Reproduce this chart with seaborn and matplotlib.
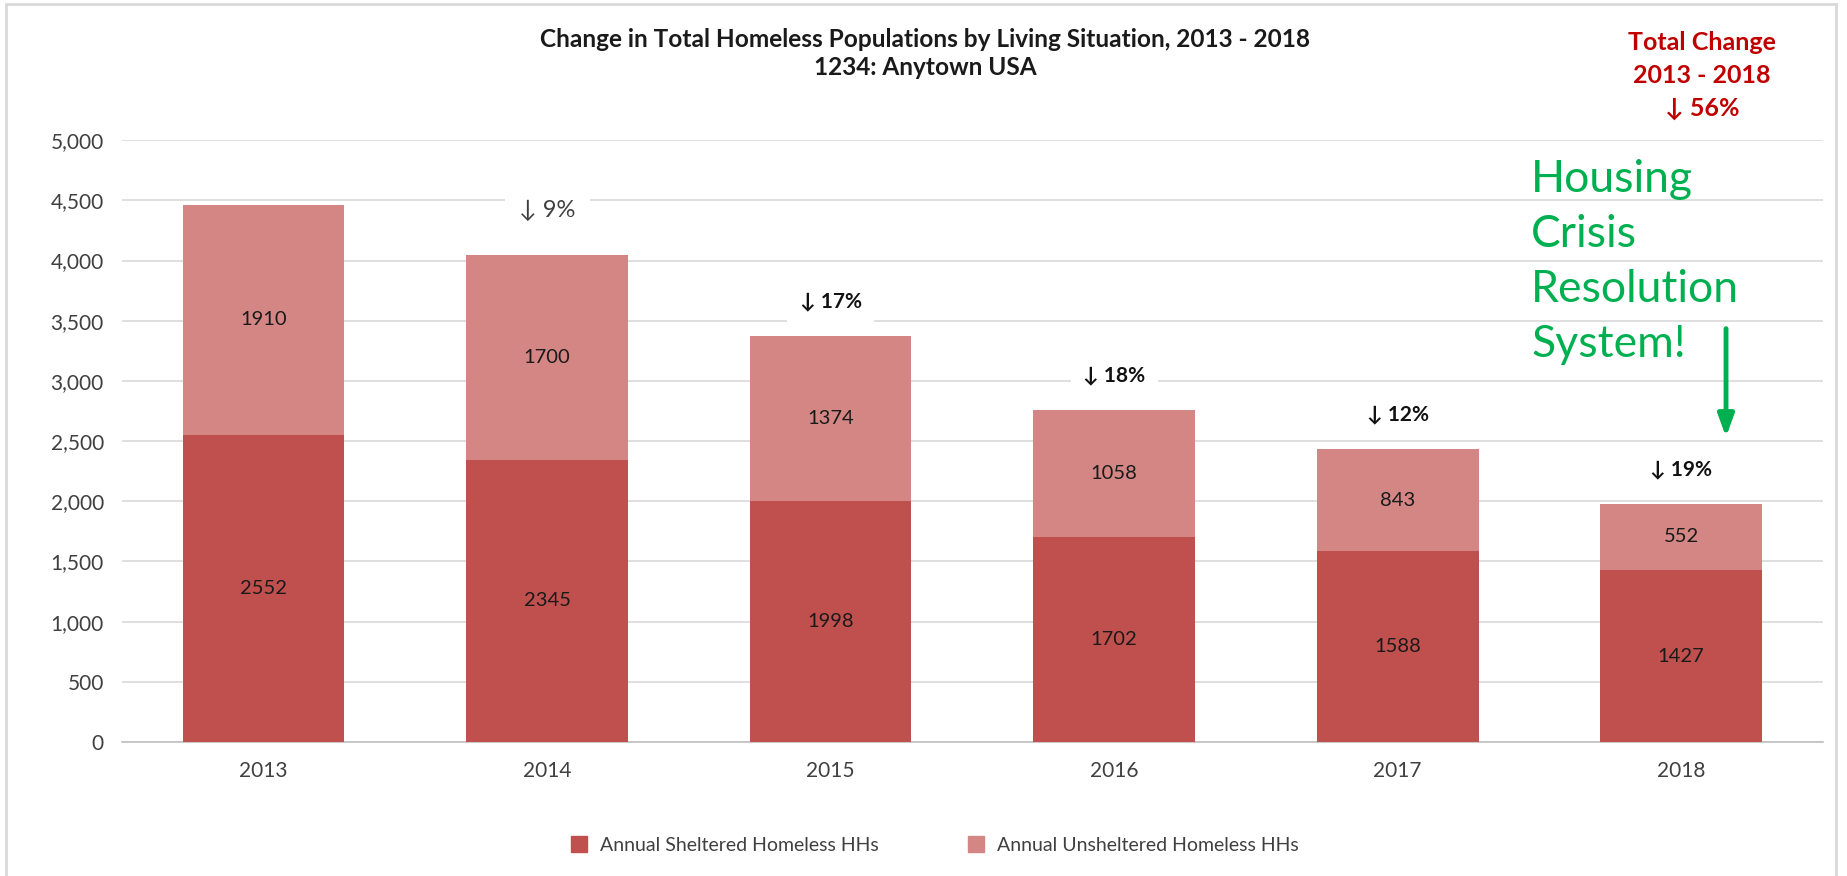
import matplotlib
matplotlib.use("Agg")
import matplotlib.pyplot as plt
import matplotlib.patches as mpatches
from matplotlib.lines import Line2D
from matplotlib.ticker import FuncFormatter, FixedLocator
import numpy as np
import pandas as pd
import seaborn as sns

# ── Data ─────────────────────────────────────────────────────────────────────
YEARS       = ["2013", "2014", "2015", "2016", "2017", "2018"]
SHELTERED   = [2552, 2345, 1998, 1702, 1588, 1427]
UNSHELTERED = [1910, 1700, 1374, 1058, 843, 552]

TITLE     = "Change in Total Homeless Populations by Living Situation, 2013 - 2018\n1234: Anytown USA"
SERIES    = ["Annual Sheltered Homeless HHs", "Annual Unsheltered Homeless HHs"]
CALLOUT   = "Housing\nCrisis\nResolution\nSystem!"

DARK_RED  = "#C0504D"
LIGHT_RED = "#D38684"
GRID_GREY = "#D9D9D9"
TXT_RED   = "#C00000"
GREEN     = "#00B050"

sns.set_theme(style="white")
plt.rcParams["font.family"] = ["Lato", "DejaVu Sans"]

df = pd.DataFrame({"year": YEARS, "sheltered": SHELTERED, "unsheltered": UNSHELTERED})
df["total"] = df["sheltered"] + df["unsheltered"]

# ── Figure ───────────────────────────────────────────────────────────────────
fig = plt.figure(figsize=(18.47, 8.76), dpi=100)
ax  = fig.add_axes([0.066, 0.153, 0.921, 0.687])

# stacked bars: total in light red, sheltered drawn on top in dark red
sns.barplot(data=df, x="year", y="total", color=LIGHT_RED, saturation=1,
            width=0.57, linewidth=0, ax=ax, zorder=2)
sns.barplot(data=df, x="year", y="sheltered", color=DARK_RED, saturation=1,
            width=0.57, linewidth=0, ax=ax, zorder=3)

ax.set_ylim(0, 5000)
ax.set_xlim(-0.5, len(YEARS) - 0.5)
ax.set_yticks(np.arange(0, 5001, 500))
ax.yaxis.set_major_formatter(FuncFormatter(lambda v, p: f"{int(v):,}"))
ax.grid(axis="y", color=GRID_GREY, linewidth=1.2, zorder=0)
ax.set_axisbelow(True)
ax.set_xlabel(""); ax.set_ylabel("")
for s in ["left", "right", "top"]:
    ax.spines[s].set_visible(False)
ax.spines["bottom"].set_color("#BFBFBF")
ax.spines["bottom"].set_linewidth(1.2)
ax.tick_params(axis="y", length=0, labelsize=15, labelcolor="#404040", pad=13)
ax.tick_params(axis="x", which="major", length=0, labelsize=15, labelcolor="#404040", pad=14)
ax.xaxis.set_minor_locator(FixedLocator(np.arange(-0.5, len(YEARS), 1.0)))
ax.tick_params(axis="x", which="minor", length=7, color="#BFBFBF", width=1.2)

# segment value labels
for i, row in df.iterrows():
    ax.text(i, row["sheltered"] / 2, str(row["sheltered"]), ha="center", va="center",
            fontsize=14.5, color="#1a1a1a", zorder=5)
    ax.text(i, row["sheltered"] + row["unsheltered"] / 2, str(row["unsheltered"]),
            ha="center", va="center", fontsize=14.5, color="#1a1a1a", zorder=5)

# year-over-year change labels
totals = df["total"].tolist()
for i in range(1, len(totals)):
    pct = round((totals[i - 1] - totals[i]) / totals[i - 1] * 100)
    first = i == 1
    ax.text(i, totals[i] + (370 if first else 290), f"\u2193 {pct}%",
            ha="center", va="center",
            fontsize=17 if first else 15,
            fontweight="normal" if first else "bold",
            color="#404040" if first else "#111111",
            bbox=dict(boxstyle="square,pad=0.6", fc="white", ec="none"), zorder=4)

# ── Titles / annotations ─────────────────────────────────────────────────────
fig.text(0.501, 0.939, TITLE, ha="center", va="center", fontsize=17.6,
         fontweight="bold", color="#1a1a1a", linespacing=1.25)

total_pct = round((totals[0] - totals[-1]) / totals[0] * 100)
fig.text(0.9215, 0.914, f"Total Change\n{YEARS[0]} - {YEARS[-1]}\n\u2193 {total_pct}%",
         ha="center", va="center", fontsize=18, fontweight="bold",
         color=TXT_RED, linespacing=1.5)

fig.text(0.829, 0.818, CALLOUT, ha="left", va="top", fontsize=32,
         color=GREEN, linespacing=1.42)

ax.annotate("", xy=(0.9345, 0.498), xytext=(0.9345, 0.628),
            xycoords="figure fraction", textcoords="figure fraction",
            arrowprops=dict(arrowstyle="-|>,head_width=0.4,head_length=1.1",
                            color=GREEN, lw=3.5))

# legend
handles = [Line2D([0], [0], marker="s", linestyle="none", markersize=11,
                  markerfacecolor=c, markeredgecolor=c)
           for c in (DARK_RED, LIGHT_RED)]
fig.legend(handles, SERIES, loc="center", bbox_to_anchor=(0.503, 0.035), ncol=2,
           frameon=False, fontsize=14, handletextpad=0.1, columnspacing=4.0,
           labelcolor="#404040")

# outer chart border
fig.patches.append(mpatches.Rectangle((0.003, -0.01), 0.991, 1.006,
                                      transform=fig.transFigure, fill=False,
                                      edgecolor=GRID_GREY, linewidth=2))

plt.savefig("out.png", dpi=100)
plt.close()
